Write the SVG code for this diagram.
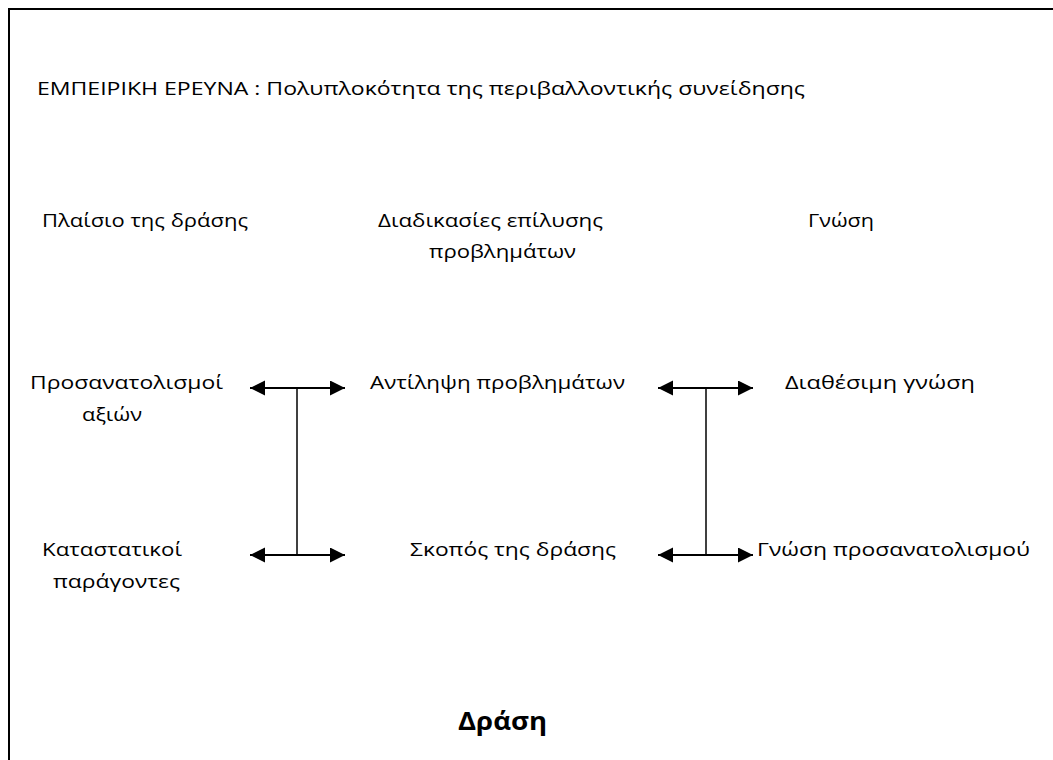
<svg xmlns="http://www.w3.org/2000/svg" width="1053" height="760" viewBox="0 0 1053 760">
  <defs>
    <style>
      .t { font-family: "Open Sans", "Noto Sans", "Liberation Sans", sans-serif; font-size: 19px; fill: #000; }
      .b { font-family: "Open Sans", "Noto Sans", "Liberation Sans", sans-serif; font-size: 25px; font-weight: bold; fill: #000; }
      .arr { stroke: #000; stroke-width: 2; fill: none; marker-start: url(#ah); marker-end: url(#ah); }
      .vl { stroke: #000; stroke-width: 1.5; fill: none; }
    </style>
    <marker id="ah" markerUnits="userSpaceOnUse" markerWidth="16" markerHeight="16" refX="15" refY="7.5" orient="auto-start-reverse">
      <path d="M0,0 L15,7.5 L0,15 Z" fill="#000"/>
    </marker>
  </defs>
  <rect width="1053" height="760" fill="#fff"/>
  <path d="M9,760 V9 H1053" stroke="#000" stroke-width="2" fill="none"/>

  <g id="title"><text class="t" x="37" y="95" textLength="768" lengthAdjust="spacingAndGlyphs">ΕΜΠΕΙΡΙΚΗ ΕΡΕΥΝΑ : Πολυπλοκότητα της περιβαλλοντικής συνείδησης</text></g>

  <g id="h-plaisio"><text class="t" x="42" y="227" textLength="206" lengthAdjust="spacingAndGlyphs">Πλαίσιο της δράσης</text></g>
  <g id="h-diadikasies">
    <text class="t" x="378" y="227" textLength="225" lengthAdjust="spacingAndGlyphs">Διαδικασίες επίλυσης</text>
    <text class="t" x="429" y="258" textLength="147" lengthAdjust="spacingAndGlyphs">προβλημάτων</text>
  </g>
  <g id="h-gnosi"><text class="t" x="808" y="227" textLength="66" lengthAdjust="spacingAndGlyphs">Γνώση</text></g>

  <g id="n-prosanatolismoi">
    <text class="t" x="30" y="389" textLength="193" lengthAdjust="spacingAndGlyphs">Προσανατολισμοί</text>
    <text class="t" x="82" y="421" textLength="60" lengthAdjust="spacingAndGlyphs">αξιών</text>
  </g>
  <g id="n-antilipsi"><text class="t" x="370" y="389" textLength="255" lengthAdjust="spacingAndGlyphs">Αντίληψη προβλημάτων</text></g>
  <g id="n-diathesimi"><text class="t" x="785" y="389" textLength="190" lengthAdjust="spacingAndGlyphs">Διαθέσιμη γνώση</text></g>

  <g id="n-katastatikoi">
    <text class="t" x="42" y="556" textLength="140" lengthAdjust="spacingAndGlyphs">Καταστατικοί</text>
    <text class="t" x="53" y="588" textLength="127" lengthAdjust="spacingAndGlyphs">παράγοντες</text>
  </g>
  <g id="n-skopos"><text class="t" x="410" y="556" textLength="206" lengthAdjust="spacingAndGlyphs">Σκοπός της δράσης</text></g>
  <g id="n-gnosi-pros"><text class="t" x="757" y="556" textLength="273" lengthAdjust="spacingAndGlyphs">Γνώση προσανατολισμού</text></g>

  <g id="n-drasi"><text class="b" x="458" y="730" textLength="89" lengthAdjust="spacingAndGlyphs">Δράση</text></g>

  <g id="connectors">
    <line class="arr" x1="250" y1="388" x2="345" y2="388"/>
    <line class="arr" x1="250" y1="555" x2="345" y2="555"/>
    <line class="vl" x1="297" y1="388" x2="297" y2="555"/>
    <line class="arr" x1="658" y1="388" x2="753" y2="388"/>
    <line class="arr" x1="658" y1="555" x2="753" y2="555"/>
    <line class="vl" x1="706" y1="388" x2="706" y2="555"/>
  </g>
</svg>
